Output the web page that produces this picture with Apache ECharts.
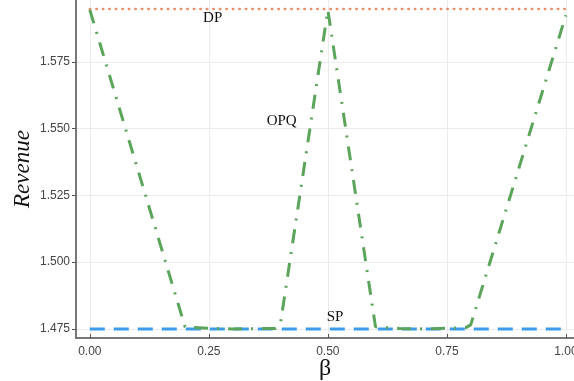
<!DOCTYPE html>
<html>
<head>
<meta charset="utf-8">
<script src="https://cdn.jsdelivr.net/npm/echarts@6/dist/echarts.min.js"></script>
<style>
html,body{margin:0;padding:0;background:#fff;}
#chart{width:574px;height:381px;}
</style>
</head>
<body>
<div id="chart"></div>
<script>
// data
var betaOPQ = [0, 0.2, 0.25, 0.3, 0.39, 0.4, 0.5, 0.6, 0.65, 0.7, 0.79, 0.8, 1.0];
var revOPQ  = [1.5945, 1.4758, 1.4752, 1.4750, 1.4752, 1.4765, 1.5945, 1.4758, 1.4752, 1.4750, 1.4755, 1.4765, 1.5925];
var betaFlat = [0, 1];
var revDP = [1.5948, 1.5948];
var revSP = [1.475, 1.475];
var xTicks = [0, 0.25, 0.5, 0.75, 1.0];
var yTicks = [1.475, 1.5, 1.525, 1.55, 1.575];
// curve labels [x, y, text]
var curveLabels = [[0.258, 1.5915, 'DP'], [0.403, 1.553, 'OPQ'], [0.515, 1.4793, 'SP']];

var chart = echarts.init(document.getElementById('chart'));

function pairs(xs, ys){
	var out = [];
	for (var i = 0; i < xs.length; i++) out.push([xs[i], ys[i]]);
	return out;
}

var labelPoints = curveLabels.map(function(l){
	return {
		coord: [l[0], l[1]],
		symbol: 'rect',
		symbolSize: 2,
		itemStyle: {color: 'rgba(0,0,0,0)'},
		label: {show: true, formatter: l[2], color: '#111', fontFamily: 'Liberation Serif', fontSize: 15, position: 'inside'}
	};
});

var option = {
	animation: false,
	backgroundColor: '#fff',
	grid: {left: 76, top: 0, right: 0, bottom: 43, outerBoundsMode: 'none', containLabel: false},
	xAxis: {
		type: 'value',
		min: -0.029,
		max: 1.017,
		name: 'β',
		nameLocation: 'middle',
		nameGap: 19,
		nameMoveOverlap: false,
		nameTextStyle: {fontFamily: 'Liberation Serif', fontSize: 24, color: '#111'},
		axisLine: {onZero: false, lineStyle: {color: '#777', width: 2}},
		axisTick: {show: true, inside: true, length: 4, customValues: xTicks, lineStyle: {color: '#555'}},
		axisLabel: {customValues: xTicks, color: '#444', fontSize: 12, margin: 8,
			formatter: function(v){ return v.toFixed(2); }},
		splitLine: {show: true, lineStyle: {color: '#ebebeb'}}
	},
	yAxis: {
		type: 'value',
		min: 1.4716,
		max: 1.5982,
		name: 'Revenue',
		nameLocation: 'middle',
		nameGap: 42,
		nameMoveOverlap: false,
		nameTextStyle: {fontFamily: 'Liberation Serif', fontStyle: 'italic', fontSize: 23, color: '#111'},
		axisLine: {show: true, onZero: false, lineStyle: {color: '#777', width: 2}},
		axisTick: {show: true, length: 4, customValues: yTicks, lineStyle: {color: '#555'}},
		axisLabel: {customValues: yTicks, color: '#444', fontSize: 12, margin: 6,
			formatter: function(v){ return v.toFixed(3); }},
		splitLine: {show: true, lineStyle: {color: '#ebebeb'}}
	},
	series: [
		{
			name: 'DP', type: 'line', symbol: 'none',
			data: pairs(betaFlat, revDP),
			lineStyle: {color: '#e8906a', width: 2.5, type: [0.5, 6], cap: 'round'}
		},
		{
			name: 'SP', type: 'line', symbol: 'none',
			data: pairs(betaFlat, revSP),
			lineStyle: {color: '#3c9cec', width: 3, type: [15, 9]}
		},
		{
			name: 'OPQ', type: 'line', symbol: 'none',
			data: pairs(betaOPQ, revOPQ),
			lineStyle: {color: '#5aa55a', width: 3, type: [14, 9, 2, 9]},
			markPoint: {data: labelPoints}
		}
	]
};
chart.setOption(option);
</script>
</body>
</html>
